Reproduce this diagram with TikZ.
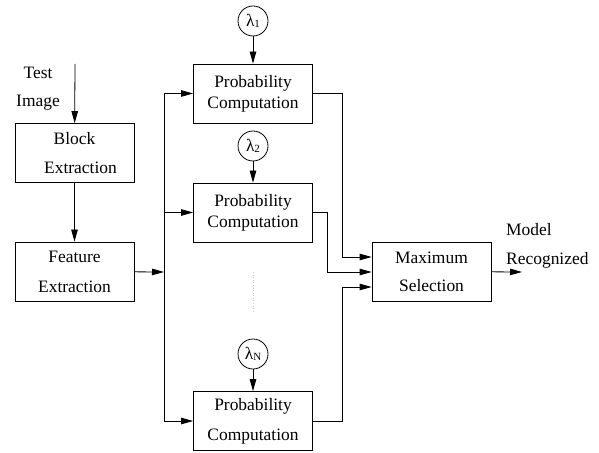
\documentclass[tikz,border=0pt]{standalone}
\usepackage{fontspec}
\setmainfont{Liberation Serif}
\usetikzlibrary{arrows.meta}

\tikzset{
  box/.style={draw, line width=0.8pt, minimum width=119bp, minimum height=59bp,
    inner sep=0pt, align=center, font=\fontsize{17.5}{30}\selectfont},
  tightbox/.style={box, font=\fontsize{17.5}{21}\selectfont},
  lam/.style={draw, circle, line width=0.8pt, minimum size=30bp, inner sep=0pt,
    font=\fontsize{17.5}{20}\selectfont},
  txt/.style={inner sep=0pt, font=\fontsize{17.5}{20}\selectfont},
  flow/.style={line width=0.8pt, -{Triangle[length=12bp,width=6.5bp]}}
}
\newcommand{\lamsub}[1]{λ\raisebox{-0.2ex}{\fontsize{11}{11}\selectfont #1}}

\begin{document}
\begin{tikzpicture}[x=1bp,y=-1bp]
  \useasboundingbox (0,0) rectangle (599,453);
  % input side
  \node[txt] (test) at (38,73) {Test};
  \node[txt] (img) at (38,103) {Image};
  \coordinate (in) at (75,64);
  \node[box] (blk) at (74.5,153) {Block\\\hspace*{12bp}Extraction};
  \node[box] (feat) at (74.5,271.5) {Feature\\Extraction};
  \coordinate (bus) at (164,272);
  % models
  \node[tightbox] (p1) at (253,93.5) {Probability\\Computation};
  \node[tightbox] (p2) at (253,212.5) {Probability\\Computation};
  \node[box] (pN) at (253,421) {Probability\\Computation};
  \node[lam] (l1) at (253,21) {\lamsub{1}};
  \node[lam] (l2) at (253,146) {\lamsub{2}};
  \node[lam] (lN) at (253,354) {\lamsub{N}};
  \coordinate (dtop) at (253,272);
  \coordinate (dbot) at (253,312);
  % decision
  \node[box, font=\fontsize{17.5}{28}\selectfont] (max) at (431.5,271.5) {Maximum\\Selection};
  \coordinate (out) at (522,272);
  \node[txt, anchor=west] (mdl) at (506,230) {Model};
  \node[txt, anchor=west] (rec) at (506,260) {Recognized};
  \coordinate (j1) at (342,257);
  \coordinate (j2) at (327,272);
  \coordinate (j3) at (342,287);

  \draw[flow] (in) -- (blk);
  \draw[flow] (blk) -- (feat);
  \draw[flow] (feat) -- (bus);
  \draw[line width=0.8pt] (bus |- p1) -- (bus |- pN);
  \draw[flow] (bus |- p1) -- (p1);
  \draw[flow] (bus |- p2) -- (p2);
  \draw[flow] (bus |- pN) -- (pN);
  \draw[flow] (l1) -- (p1);
  \draw[flow] (l2) -- (p2);
  \draw[flow] (lN) -- (pN);
  \draw[gray!40, dotted, line width=0.6pt] (dtop) -- (dbot);
  \draw[flow] (p1) -- (p1 -| j1) -- (j1) -- (max.west |- j1);
  \draw[flow] (p2) -- (p2 -| j2) -- (j2) -- (max.west |- j2);
  \draw[flow] (pN) -- (pN -| j3) -- (j3) -- (max.west |- j3);
  \draw[flow] (max) -- (out);
\end{tikzpicture}
\end{document}
